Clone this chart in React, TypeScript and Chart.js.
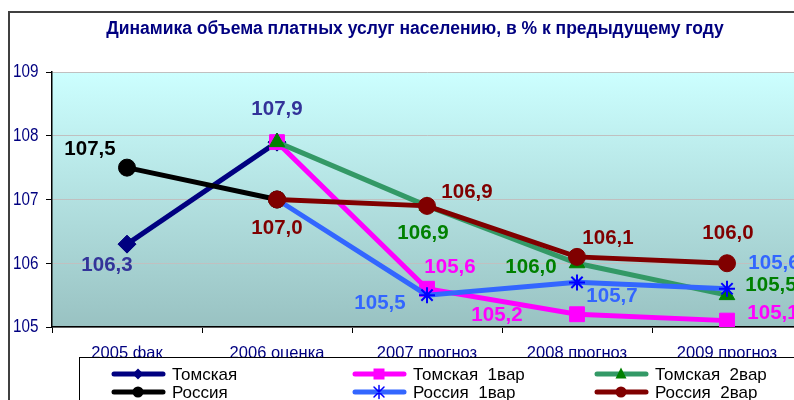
import React, { useEffect, useRef } from "react";
import { Chart, registerables } from "chart.js";

Chart.register(...registerables);

const categories = ["2005 фак", "2006 оценка", "2007 прогноз", "2008 прогноз", "2009 прогноз"];
const tomsk = [106.3, 107.9, null, null, null];
const russia = [107.5, 107.0, null, null, null];
const tomsk1 = [null, 107.9, 105.6, 105.2, 105.1];
const tomsk2 = [null, 107.9, 106.9, 106.0, 105.5];
const russia1 = [null, 107.0, 105.5, 105.7, 105.6];
const russia2 = [null, 107.0, 106.9, 106.1, 106.0];
const yTicks = [105, 106, 107, 108, 109];

const seriesNames = ["Томская", "Томская  1вар", "Томская  2вар", "Россия", "Россия  1вар", "Россия  2вар"];

// label placement (offsets from point, label centre), null = no label
const labelOffsets: (number[] | null)[][] = [
  [[-20, 21], [0, -33], null, null, null],
  [null, null, [23, -21], [-80, 1], [46, -7]],
  [null, null, [-4, 27], [-46, 4], [44, -10]],
  [[-37, -18], null, null, null, null],
  [null, null, [-47, 8], [35, 14], [47, -25]],
  [null, [0, 29], [40, -14], [31, -19], [1, -30]],
];
const labelColors = ["#333399", "#FF00FF", "#008000", "#000000", "#3366FF", "#800000"];

const FONT = "'Liberation Sans', Arial, sans-serif";

const styles = [
  { line: "#000080", fill: "#000080", point: "rectRot", r: 9 },
  { line: "#FF00FF", fill: "#FF00FF", point: "rect", r: 10.5 },
  { line: "#339966", fill: "#008000", point: "triangle", r: 9 },
  { line: "#000000", fill: "#000000", point: "circle", r: 8.5 },
  { line: "#3366FF", fill: "#0000FF", point: "star", r: 8 },
  { line: "#800000", fill: "#800000", point: "circle", r: 8.5 },
];

const seriesData = [tomsk, tomsk1, tomsk2, russia, russia1, russia2];

export default function App() {
  const ref = useRef<HTMLCanvasElement | null>(null);
  useEffect(() => {
    if (!ref.current) return;
    const bgPlugin = {
      id: "bg",
      beforeDraw(chart: any) {
        const { ctx, chartArea } = chart;
        const g = ctx.createLinearGradient(0, chartArea.top, 0, chartArea.bottom);
        g.addColorStop(0, "#CCFFFF");
        g.addColorStop(1, "#99C2C2");
        ctx.save();
        ctx.fillStyle = "#ffffff";
        ctx.fillRect(0, 0, chart.width, chart.height);
        ctx.fillStyle = g;
        ctx.fillRect(chartArea.left, chartArea.top, chartArea.right - chartArea.left, chartArea.bottom - chartArea.top);
        ctx.restore();
      },
    };
    const labelPlugin = {
      id: "labels",
      afterDatasetsDraw(chart: any) {
        const { ctx } = chart;
        ctx.save();
        ctx.font = `bold 20.5px ${FONT}`;
        ctx.textAlign = "center";
        ctx.textBaseline = "middle";
        seriesData.forEach((arr, di) => {
          const meta = chart.getDatasetMeta(di);
          arr.forEach((v, i) => {
            const off = labelOffsets[di][i];
            if (v == null || !off) return;
            const p = meta.data[i];
            ctx.fillStyle = labelColors[di];
            ctx.fillText(v.toFixed(1).replace(".", ","), p.x + off[0], p.y + off[1]);
          });
        });
        ctx.restore();
      },
    };
    const drawMarker = (ctx: any, style: string, x: number, y: number, r: number, color: string) => {
      ctx.save();
      ctx.fillStyle = color;
      ctx.strokeStyle = color;
      ctx.beginPath();
      if (style === "circle") {
        ctx.arc(x, y, r, 0, Math.PI * 2);
        ctx.fill();
      } else if (style === "rectRot") {
        ctx.moveTo(x, y - r);
        ctx.lineTo(x + r, y);
        ctx.lineTo(x, y + r);
        ctx.lineTo(x - r, y);
        ctx.closePath();
        ctx.fill();
      } else if (style === "rect") {
        ctx.rect(x - r, y - r, 2 * r, 2 * r);
        ctx.fill();
      } else if (style === "triangle") {
        ctx.moveTo(x, y - r * 1.2);
        ctx.lineTo(x + r, y + r * 0.8);
        ctx.lineTo(x - r, y + r * 0.8);
        ctx.closePath();
        ctx.fill();
      } else if (style === "star") {
        ctx.lineWidth = 1.5;
        ctx.moveTo(x - r, y - r); ctx.lineTo(x + r, y + r);
        ctx.moveTo(x + r, y - r); ctx.lineTo(x - r, y + r);
        ctx.moveTo(x, y - r * 1.3); ctx.lineTo(x, y + r * 1.3);
        ctx.stroke();
      }
      ctx.restore();
    };
    const decoPlugin = {
      id: "deco",
      afterDraw(chart: any) {
        const { ctx } = chart;
        ctx.save();
        // y tick labels (condensed like the original)
        const ys = chart.scales.y;
        ctx.fillStyle = "#000080";
        ctx.font = `17.5px ${FONT}`;
        ctx.textAlign = "right";
        ctx.textBaseline = "middle";
        yTicks.forEach((v) => {
          const py = ys.getPixelForValue(v);
          ctx.save();
          ctx.translate(38.5, py + 0.5);
          ctx.scale(0.87, 1);
          ctx.fillText(String(v), 0, 0);
          ctx.restore();
        });
        // title
        ctx.fillStyle = "#000080";
        ctx.font = `bold 17.5px ${FONT}`;
        ctx.textAlign = "center";
        ctx.textBaseline = "middle";
        ctx.fillText("Динамика объема платных услуг населению, в % к предыдущему году", 415, 29);
        // frame
        ctx.strokeStyle = "#404040";
        ctx.lineWidth = 2;
        ctx.beginPath();
        ctx.moveTo(9, 400);
        ctx.lineTo(9, 12);
        ctx.lineTo(chart.width, 12);
        ctx.stroke();
        // legend box
        ctx.fillStyle = "#ffffff";
        ctx.fillRect(80, 358, chart.width, 60);
        ctx.strokeStyle = "#000000";
        ctx.lineWidth = 1;
        ctx.strokeRect(79.5, 357.5, chart.width, 60);
        const colX = [112, 353, 595];
        const rowY = [374, 392];
        ctx.font = `17px ${FONT}`;
        ctx.textAlign = "left";
        ctx.textBaseline = "middle";
        seriesNames.forEach((name, i) => {
          const col = i % 3;
          const row = Math.floor(i / 3);
          const x = colX[col];
          const y = rowY[row];
          const st = styles[i];
          ctx.strokeStyle = st.line;
          ctx.lineWidth = 5;
          ctx.lineCap = "round";
          ctx.beginPath();
          ctx.moveTo(x + 2, y);
          ctx.lineTo(x + 51, y);
          ctx.stroke();
          drawMarker(ctx, st.point, x + 26, y, st.point === "star" ? 5 : 5.5, st.fill);
          ctx.fillStyle = "#000000";
          ctx.fillText(name, x + 60, y + 1);
        });
        ctx.restore();
      },
    };
    const chart = new Chart(ref.current, {
      type: "line",
      data: {
        labels: categories,
        datasets: seriesData.map((d, i) => ({
          label: seriesNames[i],
          data: d,
          borderColor: styles[i].line,
          backgroundColor: styles[i].fill,
          pointBackgroundColor: styles[i].fill,
          pointBorderColor: styles[i].fill,
          pointBorderWidth: styles[i].point === "star" ? 2 : 1,
          pointStyle: styles[i].point as any,
          pointRadius: styles[i].r,
          borderWidth: 5,
          fill: false,
          tension: 0,
          spanGaps: false,
          order: 10 - i,
        })),
      },
      options: {
        responsive: false,
        animation: false,
        layout: { padding: { top: 72, right: 28, left: 0, bottom: 0 } },
        plugins: { legend: { display: false }, tooltip: { enabled: false }, title: { display: false } },
        scales: {
          x: {
            offset: true,
            grid: { offset: true, drawOnChartArea: false, tickLength: 6, tickColor: "#000000" },
            border: { color: "#000000", width: 1.5 },
            ticks: { color: "#000080", font: { family: FONT, size: 16.5 }, padding: 11, maxRotation: 0, autoSkip: false },
            afterFit: (s: any) => { s.height = 73; },
          },
          y: {
            min: yTicks[0],
            max: yTicks[yTicks.length - 1],
            afterBuildTicks: (s: any) => { s.ticks = yTicks.map((v) => ({ value: v })); },
            grid: { color: "#C0C0C0", tickLength: 6, tickColor: "#000000" },
            border: { color: "#000000", width: 1.5 },
            ticks: { display: false },
            afterFit: (s: any) => { s.width = 52; },
          },
        },
      },
      plugins: [bgPlugin, labelPlugin, decoPlugin],
    });
    return () => chart.destroy();
  }, []);
  return (
    <div style={{ position: "fixed", left: 0, top: 0, width: 794, height: 400, overflow: "hidden", background: "#fff" }}>
      <canvas ref={ref} width={830} height={400} style={{ width: 830, height: 400, display: "block" }} />
    </div>
  );
}
